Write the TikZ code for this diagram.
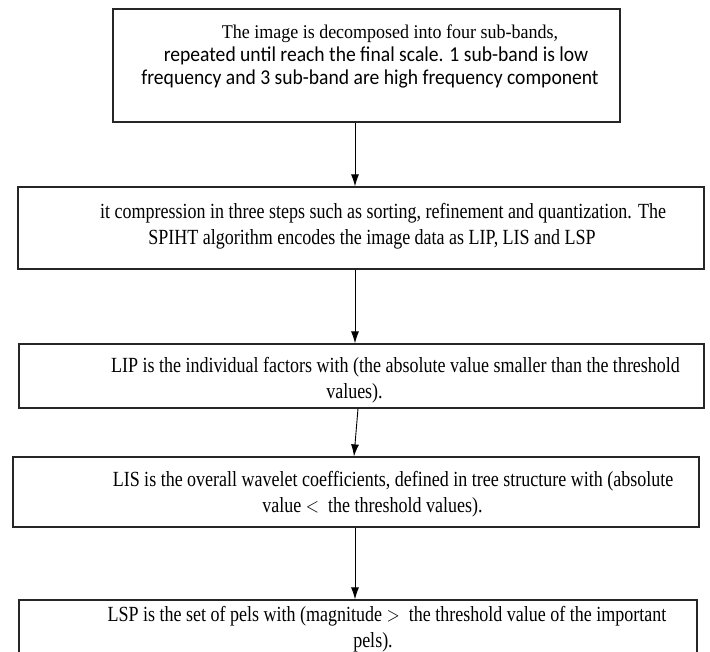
\documentclass[tikz,border=0pt]{standalone}
\usepackage{fontspec}
\setmainfont{Liberation Serif}
\newfontfamily\calibri{Carlito}
\usepackage{graphicx}
\usetikzlibrary{arrows.meta}

% texte etire verticalement, lignes centrees
\newcommand{\etire}[2][1.2]{\scalebox{1}[#1]{\begin{tabular}{@{}c@{}}#2\end{tabular}}}

\begin{document}
\begin{tikzpicture}[x=1pt,y=-1pt,
  boite/.style={draw=black!85, line width=1.2pt, inner sep=0pt},
  texte/.style={inner sep=0pt, font=\fontsize{18}{21}\selectfont},
  fleche/.style={-{Latex[length=12pt,width=8pt]}, line width=0.9pt}]

\useasboundingbox (0,0) rectangle (710,652);

% Axe des fleches
\coordinate (axe) at (355,0);

% Boites
\node[boite, minimum width=507pt, minimum height=113pt] (bandes) at (366.5,65.5) {};
\node[boite, minimum width=686pt, minimum height=82pt] (spiht) at (361,228) {};
\node[boite, minimum width=685pt, minimum height=64pt] (lip) at (361.5,376) {};
\node[boite, minimum width=686pt, minimum height=70pt] (lis) at (356,492) {};
\node[boite, minimum width=678pt, minimum height=65pt] (lsp) at (358,632.5) {};

% Textes
\node[texte] (bandes-t) at (370,57) {\etire[1.08]{%
  \hspace*{40pt}The image is decomposed into four sub-bands,\\
  \calibri\fontsize{19.6}{21}\selectfont\hspace*{12pt}repeated until reach the final scale. 1 sub-band is low\\
  \calibri\fontsize{19.6}{21}\selectfont frequency and 3 sub-band are high frequency component}};
\node[texte] (spiht-t) at (372,226.5) {\etire{%
  \hspace*{22pt}it compression in three steps such as sorting, refinement and quantization. The\\
  SPIHT algorithm encodes the image data as LIP, LIS and LSP}};
\node[texte] (lip-t) at (354.5,380.5) {\etire{%
  \hspace*{82pt}LIP is the individual factors with (the absolute value smaller than the threshold\\
  values).}};
\node[texte] (lis-t) at (372.5,494.5) {\etire{%
  \hspace*{41pt}LIS is the overall wavelet coefficients, defined in tree structure with (absolute\\
  value $<$\ \ the threshold values).}};
\node[texte] (lsp-t) at (373,629.5) {\etire{%
  \hspace*{28pt}LSP is the set of pels with (magnitude $>$\ \ the threshold value of the important\\
  pels).}};

% Fleches
\draw[fleche] (bandes.south -| axe) -- (spiht.north -| axe);
\draw[fleche] (spiht.south -| axe) -- (lip.north -| axe);
\draw[fleche] ([xshift=-3.5pt]lip.south) -- ([xshift=-2pt]lis.north);
\draw[fleche] (lis.south -| axe) -- (lsp.north -| axe);

\end{tikzpicture}
\end{document}
